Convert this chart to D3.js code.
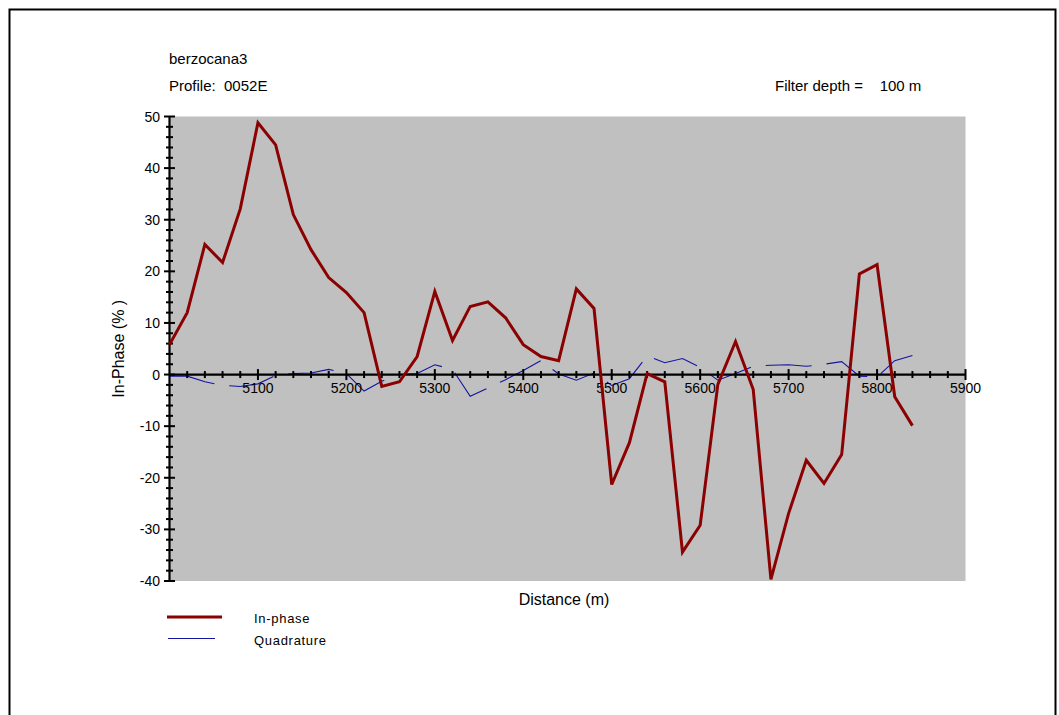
<!DOCTYPE html>
<html>
<head>
<meta charset="utf-8">
<script src="https://cdn.jsdelivr.net/npm/d3@7"></script>
<style>
  html, body { margin: 0; padding: 0; background: #fff; }
  svg { display: block; }
  text { font-family: "Liberation Sans", Arial, sans-serif; fill: #000; }
</style>
</head>
<body>
<svg id="chart" width="1059" height="715"></svg>
<script>
// Station distances along the profile (m)
const distance = [
  5000, 5020, 5040, 5060, 5080, 5100, 5120, 5140, 5160, 5180,
  5200, 5220, 5240, 5260, 5280, 5300, 5320, 5340, 5360, 5380,
  5400, 5420, 5440, 5460, 5480, 5500, 5520, 5540, 5560, 5580,
  5600, 5620, 5640, 5660, 5680, 5700, 5720, 5740, 5760, 5780,
  5800, 5820, 5840
];

// In-phase component (%)
const inPhase = [
  5.8, 12.0, 25.2, 21.7, 32.1, 48.8, 44.5, 31.0, 24.2, 18.8,
  15.9, 12.0, -2.3, -1.4, 3.5, 16.1, 6.6, 13.2, 14.1, 11.0,
  5.8, 3.5, 2.7, 16.6, 12.8, -21.3, -13.2, 0.2, -1.4, -34.4,
  -29.2, -1.9, 6.4, -2.9, -39.7, -26.9, -16.6, -21.1, -15.5, 19.5,
  21.3, -4.3, -9.9
];

// Quadrature component (%)
const quadrature = [
  -0.3, -0.3, -1.4, -2.1, -2.3, -1.8, -0.2, 0.2, 0.3, 1.0,
  0.2, -3.2, -1.3, 0.0, 0.2, 1.9, 1.0, -4.2, -2.6, -1.0,
  0.8, 2.7, 0.1, -1.1, 0.3, -2.1, -0.8, 3.6, 2.3, 3.1,
  1.4, -1.1, 0.2, 1.6, 1.8, 1.9, 1.6, 2.0, 2.5, -0.3,
  -0.5, 2.7, 3.7
];

const yTickValues = [-40, -30, -20, -10, 0, 10, 20, 30, 40, 50];
const xTickValues = [5000, 5100, 5200, 5300, 5400, 5500, 5600, 5700, 5800, 5900];

const svg = d3.select("#chart");

// Outer frame
svg.append("rect")
  .attr("x", 9.5).attr("y", 9.5)
  .attr("width", 1046).attr("height", 730)
  .attr("fill", "none").attr("stroke", "#000").attr("stroke-width", 2);

const x = d3.scaleLinear().domain([5000, 5900]).range([169.5, 965.5]);
const y = d3.scaleLinear().domain([-40, 50]).range([581, 116.5]);

// Plot background
svg.append("rect")
  .attr("x", x(5000)).attr("y", y(50))
  .attr("width", x(5900) - x(5000)).attr("height", y(-40) - y(50))
  .attr("fill", "#c0c0c0");

// Header text
svg.append("text").attr("x", 169).attr("y", 64)
  .style("font-size", "15px")
  .text("berzocana3");
svg.append("text").attr("x", 169).attr("y", 91)
  .style("font-size", "15px")
  .style("white-space", "pre")
  .text("Profile:  0052E");
svg.append("text").attr("x", 775).attr("y", 91)
  .style("font-size", "15px")
  .style("white-space", "pre")
  .text("Filter depth =    100 m");

const line = d3.line().x((d, i) => x(distance[i])).y(d => y(d));

// Quadrature trace (drawn beneath the axes)
svg.append("path")
  .datum(quadrature)
  .attr("d", line)
  .attr("fill", "none")
  .attr("stroke", "#1414a0")
  .attr("stroke-width", 1.1)
  .attr("stroke-dasharray", "46,15");

// Y axis with major and minor ticks
const gy = svg.append("g");
gy.append("line")
  .attr("x1", x(5000)).attr("x2", x(5000))
  .attr("y1", y(-40)).attr("y2", y(50))
  .attr("stroke", "#000").attr("stroke-width", 2.2);
gy.selectAll("line.minor")
  .data(d3.range(-40, 51, 2).filter(v => v % 10 !== 0))
  .join("line").attr("class", "minor")
  .attr("x1", x(5000) - 3.5).attr("x2", x(5000) + 3.5)
  .attr("y1", d => y(d)).attr("y2", d => y(d))
  .attr("stroke", "#000").attr("stroke-width", 2);
gy.selectAll("line.major")
  .data(yTickValues)
  .join("line").attr("class", "major")
  .attr("x1", x(5000) - 5.5).attr("x2", x(5000) + 5.5)
  .attr("y1", d => y(d)).attr("y2", d => y(d))
  .attr("stroke", "#000").attr("stroke-width", 2);
gy.selectAll("text")
  .data(yTickValues)
  .join("text")
  .attr("x", 160).attr("y", d => y(d))
  .attr("text-anchor", "end").attr("dominant-baseline", "central")
  .style("font-size", "14px")
  .text(d => d);

// X axis along the zero line
const gx = svg.append("g");
gx.append("line")
  .attr("x1", x(5000)).attr("x2", x(5900))
  .attr("y1", y(0)).attr("y2", y(0))
  .attr("stroke", "#000").attr("stroke-width", 2.2);
gx.selectAll("line.minor")
  .data(d3.range(5020, 5900, 20).filter(v => v % 100 !== 0))
  .join("line").attr("class", "minor")
  .attr("x1", d => x(d)).attr("x2", d => x(d))
  .attr("y1", y(0) - 3.5).attr("y2", y(0) + 3.5)
  .attr("stroke", "#000").attr("stroke-width", 2);
gx.selectAll("line.major")
  .data(xTickValues.slice(1))
  .join("line").attr("class", "major")
  .attr("x1", d => x(d)).attr("x2", d => x(d))
  .attr("y1", y(0) - 5.5).attr("y2", y(0) + 5.5)
  .attr("stroke", "#000").attr("stroke-width", 2);
gx.selectAll("text")
  .data(xTickValues.slice(1))
  .join("text")
  .attr("x", d => x(d)).attr("y", y(0) + 18.5)
  .attr("text-anchor", "middle")
  .style("font-size", "14px")
  .text(d => d);

// In-phase trace
svg.append("path")
  .datum(inPhase)
  .attr("d", line)
  .attr("fill", "none")
  .attr("stroke", "#8b0000")
  .attr("stroke-width", 3)
  .attr("stroke-linejoin", "miter");

// Axis titles
svg.append("text")
  .attr("transform", `translate(124, ${(y(50) + y(-40)) / 2}) rotate(-90)`)
  .attr("text-anchor", "middle")
  .style("font-size", "16px")
  .style("white-space", "pre")
  .text("In-Phase (% )");
svg.append("text")
  .attr("x", 564).attr("y", 605)
  .attr("text-anchor", "middle")
  .style("font-size", "16px")
  .text("Distance (m)");

// Legend
const legend = [
  { label: "In-phase", color: "#8b0000", width: 3, x1: 167, x2: 222, y: 617 },
  { label: "Quadrature", color: "#1414a0", width: 1.1, x1: 168, x2: 215, y: 638.5 }
];
const lg = svg.append("g");
lg.selectAll("line")
  .data(legend).join("line")
  .attr("x1", d => d.x1).attr("x2", d => d.x2)
  .attr("y1", d => d.y).attr("y2", d => d.y)
  .attr("stroke", d => d.color).attr("stroke-width", d => d.width);
lg.selectAll("text")
  .data(legend).join("text")
  .attr("x", 254).attr("y", d => d.y + 6)
  .style("font-size", "13px").style("letter-spacing", "0.7px")
  .text(d => d.label);
</script>
</body>
</html>
